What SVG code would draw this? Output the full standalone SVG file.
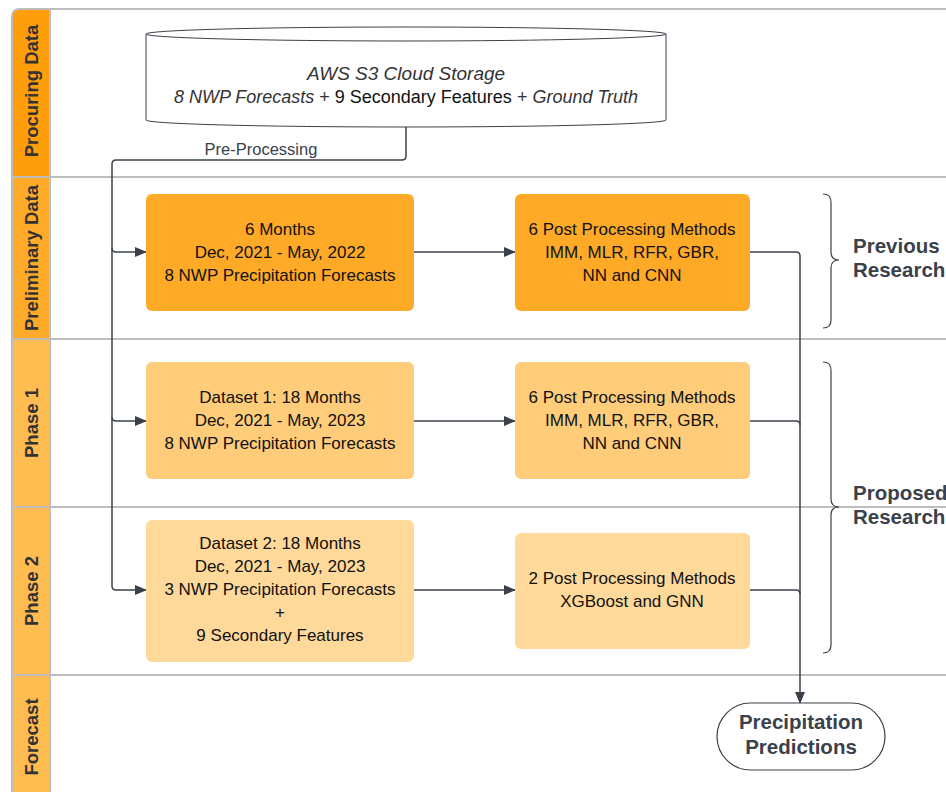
<svg xmlns="http://www.w3.org/2000/svg" width="946" height="792" viewBox="0 0 946 792">
<defs>
<marker id="arr" markerWidth="12" markerHeight="10" refX="11" refY="5" orient="auto" markerUnits="userSpaceOnUse">
<path d="M0,0 L12,5 L0,10 Z" fill="#3a414a"/>
</marker>
<style>
.lane{fill:none;stroke:#bdbdbd;stroke-width:2}
.hdr{font-family:"Liberation Sans",Arial,sans-serif;font-size:18.5px;font-weight:bold;fill:#333;text-anchor:middle}
.box{font-family:"Liberation Sans",Arial,sans-serif;font-size:17px;fill:#111;text-anchor:middle}
.cyl{font-family:"Liberation Sans",Arial,sans-serif;font-size:19px;fill:#333;text-anchor:middle}
.lbl{font-family:"Liberation Sans",Arial,sans-serif;font-size:16.5px;fill:#3a414a;text-anchor:middle}
.big{font-family:"Liberation Sans",Arial,sans-serif;font-size:20.5px;font-weight:bold;fill:#3a414a}
.con{fill:none;stroke:#3a414a;stroke-width:1.5}
.c1{fill:#ffaa26}
.c2{fill:#ffcc7a}
.c3{fill:#ffd999}
</style>
</defs>
<rect width="946" height="792" fill="#fff"/>
<g id="lanes">
<rect x="12" y="9" width="38" height="168" fill="#ff9e0b"/>
<rect x="12" y="177" width="38" height="162" fill="#ffab29"/>
<rect x="12" y="339" width="38" height="168" fill="#ffbc50"/>
<rect x="12" y="507" width="38" height="168" fill="#ffbc50"/>
<rect x="12" y="675" width="38" height="117" fill="#ffbc50"/>
<path d="M12,17 Q12,9 20,9 H12 Z" fill="#fff"/>
<path class="lane" d="M12,792 V17 Q12,9 20,9 H946"/>
<line class="lane" x1="50" y1="9" x2="50" y2="792"/>
<line class="lane" x1="12" y1="177" x2="946" y2="177"/>
<line class="lane" x1="12" y1="339" x2="946" y2="339"/>
<line class="lane" x1="12" y1="507" x2="946" y2="507"/>
<line class="lane" x1="12" y1="675" x2="946" y2="675"/>
<text class="hdr" transform="translate(38,91) rotate(-90)">Procuring Data</text>
<text class="hdr" transform="translate(38,258) rotate(-90)">Preliminary Data</text>
<text class="hdr" transform="translate(38,423) rotate(-90)">Phase 1</text>
<text class="hdr" transform="translate(38,591) rotate(-90)">Phase 2</text>
<text class="hdr" transform="translate(38,737) rotate(-90)">Forecast</text>
</g>
<g id="connectors">
<path class="con" d="M406,127 V156 Q406,160 402,160 H116 Q112,160 112,164 V586 Q112,590 116,590 H146" marker-end="url(#arr)"/>
<path class="con" d="M112,248 Q112,252 116,252 H146" marker-end="url(#arr)"/>
<path class="con" d="M112,417 Q112,421 116,421 H146" marker-end="url(#arr)"/>
<line class="con" x1="414" y1="252" x2="515" y2="252" marker-end="url(#arr)"/>
<line class="con" x1="414" y1="421" x2="515" y2="421" marker-end="url(#arr)"/>
<line class="con" x1="414" y1="590" x2="515" y2="590" marker-end="url(#arr)"/>
<path class="con" d="M750,252 H796 Q800,252 800,256 V703" marker-end="url(#arr)"/>
<path class="con" d="M750,421 H796 Q800,421 800,425"/>
<path class="con" d="M750,590 H796 Q800,590 800,594"/>
<text class="lbl" x="261" y="155">Pre-Processing</text>
</g>
<g id="storage">
<path d="M146,34 V120 A260,7 0 0 0 666,120 V34" fill="#fff" stroke="#3a414a" stroke-width="1"/>
<ellipse cx="406" cy="34" rx="260" ry="7" fill="#fff" stroke="#3a414a" stroke-width="1"/>
<text class="cyl" x="406" y="80" font-style="italic">AWS S3 Cloud Storage</text>
<text class="cyl" x="406" y="103" style="font-size:18px"><tspan font-style="italic">8 NWP Forecasts</tspan> + <tspan fill="#111">9 Secondary Features</tspan> + <tspan font-style="italic">Ground Truth</tspan></text>
</g>
<g id="prelim-data">
<rect class="c1" x="146" y="194" width="268" height="117" rx="6"/>
<text class="box" x="280" y="235">6 Months</text>
<text class="box" x="280" y="258">Dec, 2021 - May, 2022</text>
<text class="box" x="280" y="281">8 NWP Precipitation Forecasts</text>
</g>
<g id="prelim-methods">
<rect class="c1" x="515" y="194" width="235" height="117" rx="6"/>
<text class="box" x="632" y="235">6 Post Processing Methods</text>
<text class="box" x="632" y="258">IMM, MLR, RFR, GBR,</text>
<text class="box" x="632" y="281">NN and CNN</text>
</g>
<g id="phase1-data">
<rect class="c2" x="146" y="362" width="268" height="117" rx="6"/>
<text class="box" x="280" y="403">Dataset 1: 18 Months</text>
<text class="box" x="280" y="426">Dec, 2021 - May, 2023</text>
<text class="box" x="280" y="449">8 NWP Precipitation Forecasts</text>
</g>
<g id="phase1-methods">
<rect class="c2" x="515" y="362" width="235" height="117" rx="6"/>
<text class="box" x="632" y="403">6 Post Processing Methods</text>
<text class="box" x="632" y="426">IMM, MLR, RFR, GBR,</text>
<text class="box" x="632" y="449">NN and CNN</text>
</g>
<g id="phase2-data">
<rect class="c3" x="146" y="520" width="268" height="142" rx="6"/>
<text class="box" x="280" y="549">Dataset 2: 18 Months</text>
<text class="box" x="280" y="572">Dec, 2021 - May, 2023</text>
<text class="box" x="280" y="595">3 NWP Precipitation Forecasts</text>
<text class="box" x="280" y="618">+</text>
<text class="box" x="280" y="641">9 Secondary Features</text>
</g>
<g id="phase2-methods">
<rect class="c3" x="515" y="533" width="235" height="116" rx="6"/>
<text class="box" x="632" y="584">2 Post Processing Methods</text>
<text class="box" x="632" y="607">XGBoost and GNN</text>
</g>
<g id="predictions">
<rect x="717" y="703" width="168" height="67" rx="33.5" fill="#fff" stroke="#3a414a" stroke-width="1.2"/>
<text class="big" x="801" y="729" text-anchor="middle">Precipitation</text>
<text class="big" x="801" y="754" text-anchor="middle">Predictions</text>
</g>
<g id="previous-research">
<path d="M823,194 Q831,194 831,202 V252 Q831,260 839,260 Q831,260 831,268 V320 Q831,328 823,328" fill="none" stroke="#3a414a" stroke-width="1.2"/>
<text class="big" x="853" y="253">Previous</text>
<text class="big" x="853" y="277">Research</text>
</g>
<g id="proposed-research">
<path d="M823,362 Q831,362 831,370 V499 Q831,507 839,507 Q831,507 831,515 V645 Q831,653 823,653" fill="none" stroke="#3a414a" stroke-width="1.2"/>
<text class="big" x="853" y="500">Proposed</text>
<text class="big" x="853" y="524">Research</text>
</g>
</svg>
